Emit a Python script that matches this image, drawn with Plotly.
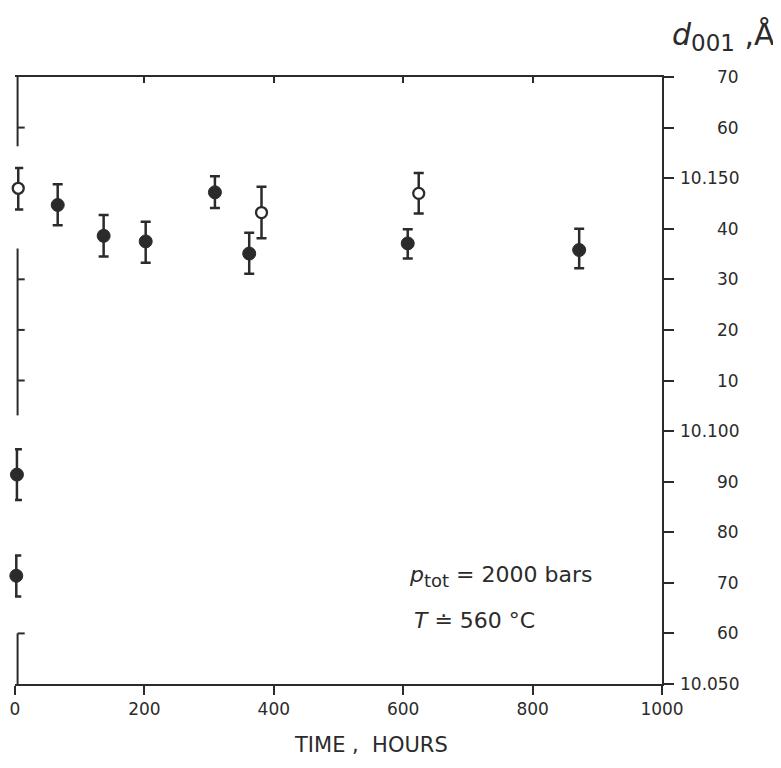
import plotly.graph_objects as go

# ---- data ----
t_filled = [66, 137, 202, 309, 362, 607, 872, 3, 2]
d_filled = [10.1447, 10.1386, 10.1375, 10.1472, 10.1351, 10.1371, 10.1358, 10.0914, 10.0714]
e_filled_up = [0.0041, 0.0041, 0.0039, 0.0032, 0.0041, 0.0028, 0.0042, 0.0050, 0.0040]
e_filled_dn = [0.0040, 0.0041, 0.0042, 0.0031, 0.0040, 0.0030, 0.0036, 0.0050, 0.0041]

t_open = [5, 381, 624]
d_open = [10.1480, 10.1432, 10.1470]
e_open_up = [0.0040, 0.0051, 0.0040]
e_open_dn = [0.0042, 0.0051, 0.0040]

x_ticks = [0, 200, 400, 600, 800, 1000]
x_top_ticks = [200, 400, 600, 800]
y_ticks = [10.170, 10.160, 10.150, 10.140, 10.130, 10.120, 10.110,
           10.100, 10.090, 10.080, 10.070, 10.060, 10.050]
y_ticktext = ["70", "60", "10.150", "40", "30", "20", "10",
              "10.100", "90", "80", "70", "60", "10.050"]
# visible pieces of the (broken) left frame line and its inward ticks
left_segments = [(10.1563, 10.170), (10.1031, 10.1361), (10.050, 10.060)]
left_ticks = [10.160, 10.130, 10.120, 10.110, 10.060]

INK = "#2b2b2b"
FONT = "DejaVu Sans"

fig = go.Figure()

fig.add_trace(go.Scatter(
    x=t_filled, y=d_filled, mode="markers",
    marker=dict(symbol="circle", size=13, color=INK, line=dict(color=INK, width=1)),
    error_y=dict(type="data", symmetric=False, array=e_filled_up, arrayminus=e_filled_dn,
                 color=INK, thickness=2.5, width=5),
    cliponaxis=False, showlegend=False,
))
fig.add_trace(go.Scatter(
    x=t_open, y=d_open, mode="markers",
    marker=dict(symbol="circle", size=11, color="white", line=dict(color=INK, width=2.3)),
    error_y=dict(type="data", symmetric=False, array=e_open_up, arrayminus=e_open_dn,
                 color=INK, thickness=2.5, width=5),
    cliponaxis=False, showlegend=False,
))
# invisible trace on the top axis so it renders
fig.add_trace(go.Scatter(x=[None], y=[None], xaxis="x2", showlegend=False))

# page body has an 8px margin, so the figure is smaller and margins shifted
fig.update_layout(
    width=773, height=752,
    margin=dict(l=7, r=119, t=69, b=76, autoexpand=False),
    plot_bgcolor="white", paper_bgcolor="white",
    font=dict(family=FONT, color=INK, size=16),
    xaxis=dict(
        range=[0, 1000], tickvals=x_ticks, ticktext=[str(v) for v in x_ticks],
        showgrid=False, zeroline=False, showline=True, linecolor=INK, linewidth=2,
        ticks="outside", ticklen=9, tickwidth=2, tickcolor=INK, automargin=False,
        tickfont=dict(size=17, family=FONT, color=INK),
    ),
    xaxis2=dict(
        range=[0, 1000], overlaying="x", side="top", tickvals=x_top_ticks,
        showticklabels=False, showgrid=False, zeroline=False, showline=True,
        linecolor=INK, linewidth=2, ticks="inside", ticklen=6, tickwidth=2, tickcolor=INK,
        automargin=False,
    ),
    yaxis=dict(
        range=[10.050, 10.170], side="right", tickvals=y_ticks, showticklabels=False,
        showgrid=False, zeroline=False, showline=True, linecolor=INK, linewidth=2,
        ticks="outside", ticklen=10, tickwidth=2, tickcolor=INK, automargin=False,
    ),
)

# right-aligned tick labels on the right axis
for v, s in zip(y_ticks, y_ticktext):
    fig.add_annotation(x=1.122, xref="paper", y=v, yref="y", text=s, showarrow=False,
                       xanchor="right", yanchor="middle",
                       font=dict(size=17, family=FONT, color=INK))

# broken left frame line
for y0, y1 in left_segments:
    fig.add_shape(type="line", xref="paper", yref="y", x0=0.004, x1=0.004, y0=y0, y1=y1,
                  line=dict(color=INK, width=2))
for v in left_ticks:
    fig.add_shape(type="line", xref="paper", yref="y", x0=0.004, x1=0.015, y0=v, y1=v,
                  line=dict(color=INK, width=2))

# axis titles
fig.add_annotation(x=1.178, xref="paper", y=1.066, yref="paper",
                   text="<i>d</i><sub><span style='font-size:23px'>001</span></sub> ,Å",
                   showarrow=False, xanchor="right", yanchor="middle",
                   font=dict(size=30, family=FONT, color=INK))
fig.add_annotation(x=0.55, xref="paper", y=-0.1, yref="paper",
                   text="TIME ,  HOURS", showarrow=False,
                   xanchor="center", yanchor="middle",
                   font=dict(size=21, family=FONT, color=INK))

# conditions text
fig.add_annotation(x=0.606, xref="paper", y=10.0712, yref="y",
                   text="<i>p</i><sub><span style='font-size:18px'>tot</span></sub> = 2000 bars",
                   showarrow=False, xanchor="left", yanchor="middle",
                   font=dict(size=22, family=FONT, color=INK))
fig.add_annotation(x=0.614, xref="paper", y=10.0625, yref="y",
                   text="<i>T</i> ≐ 560 °C", showarrow=False,
                   xanchor="left", yanchor="middle",
                   font=dict(size=22, family=FONT, color=INK))

fig.write_html("out.html")
